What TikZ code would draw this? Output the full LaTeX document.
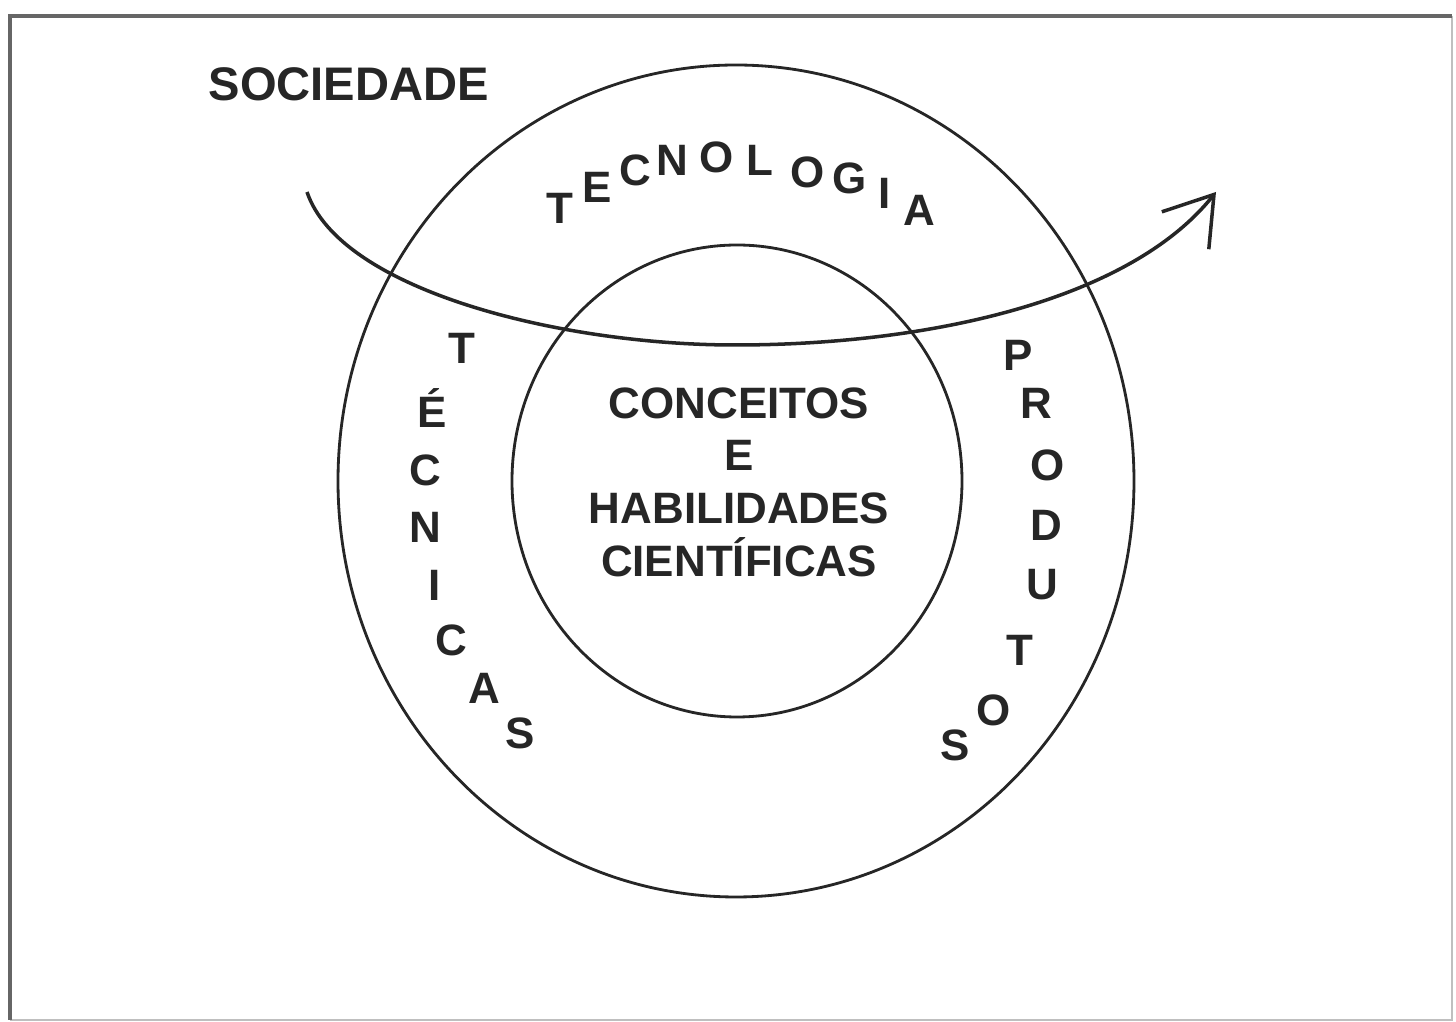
\documentclass[tikz,border=0pt]{standalone}
\usepackage{fontspec}
\setmainfont{Liberation Sans}
\usetikzlibrary{arrows.meta}

\tikzset{
  letra/.style={font=\fontsize{12.5}{15}\selectfont\bfseries, text=black!85, inner sep=0pt},
  anel/.style={line width=0.8pt, black!85}
}

\begin{document}
\begin{tikzpicture}[x=0.01cm,y=-0.01cm]
\useasboundingbox (0,0) rectangle (1456,1022);
% moldura
\draw[black!25, line width=0.8pt] (10,1020) -- (1452,1020) -- (1452,16);
\draw[black!60, line width=1.2pt] (1452,16) -- (10,16) -- (10,1020);
% circulos
\draw[anel] (736,481) ellipse [x radius=398, y radius=416];
\draw[anel] (737,481) ellipse [x radius=225, y radius=236];
\node[letra, font=\fontsize{13.4}{15}\selectfont\bfseries, anchor=base west] (soc) at (208,101) {SOCIEDADE};
% centro
\node[letra, align=center] (conc) at (739,482)
  {CONCEITOS\\ E\\ HABILIDADES\\ CIENTÍFICAS};
% tecnologia
\foreach \x/\y/\l [count=\i] in {560/208/T,597/187/E,635/170/C,672/160/N,717/157/O,
  760/160/L,808/172/O,850/178/G,885/193/I,919/210/A}
  {\node[letra] (tec\i) at (\x,\y) {\l};}
% tecnicas
\foreach \x/\y/\l [count=\i] in {462/348/T,432/408/É,425/470/C,425/527/N,435/585/I,
  451/640/C,484/688/A,520/733/S}
  {\node[letra] (tcn\i) at (\x,\y) {\l};}
% produtos
\foreach \x/\y/\l [count=\i] in {1018/355/P,1036/403/R,1048/465/O,1046/525/D,1042/585/U,
  1020/650/T,994/710/O,955/745/S}
  {\node[letra] (prd\i) at (\x,\y) {\l};}
% seta
\coordinate (ini) at (307,192);
\coordinate (meio) at (735,345);
\coordinate (fim) at (1216,192);
\draw[line width=1pt, black!85, -{Straight Barb[length=4.6mm,width=6mm]}]
  (ini) .. controls (340,290) and (560,345) .. (meio)
        .. controls (930,345) and (1130,300) .. (fim);
\end{tikzpicture}
\end{document}
